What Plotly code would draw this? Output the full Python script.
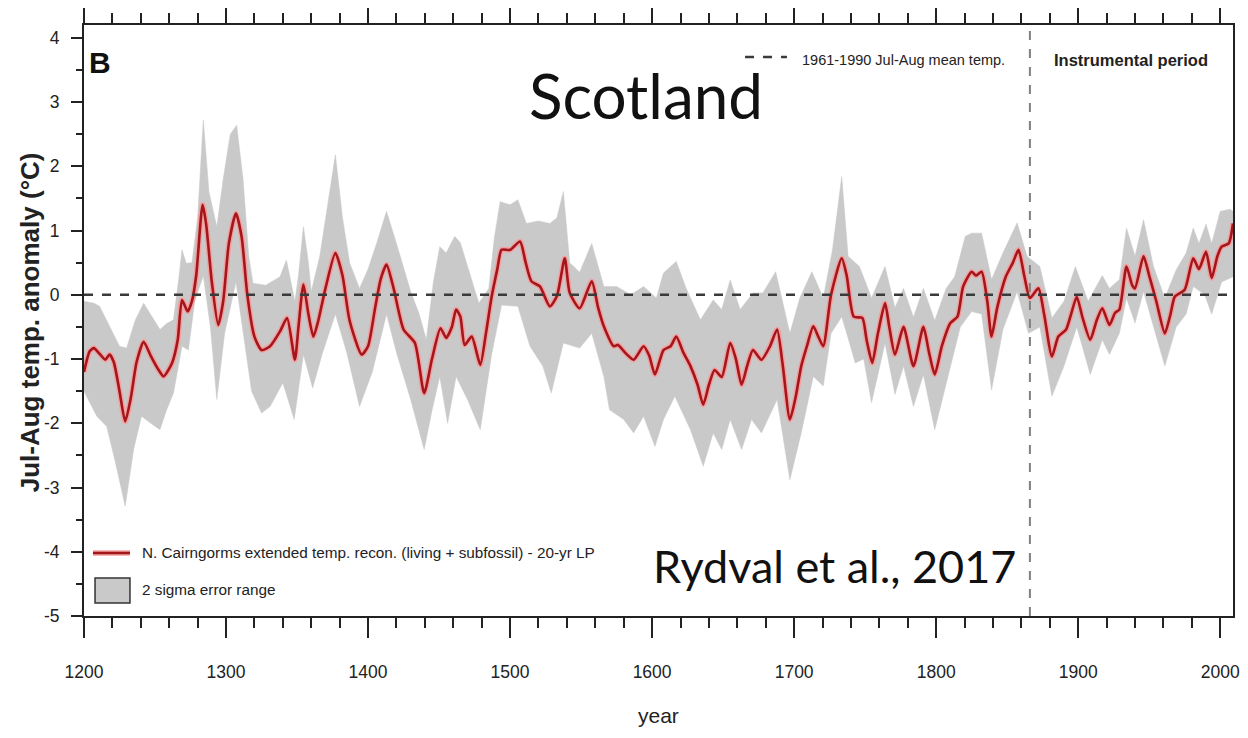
import plotly.graph_objects as go

# ---------------- data ----------------
recon_years = [1200, 1204, 1207, 1211, 1215, 1218, 1221, 1225, 1229, 1233, 1237, 1242, 1247, 1252,
               1256, 1262, 1266, 1269, 1273, 1276, 1279, 1283.5, 1286, 1290, 1294.5, 1298, 1302, 1307,
               1311, 1315, 1320, 1325, 1331, 1338, 1343, 1348.5, 1351, 1354.5, 1358, 1361.5, 1365, 1370,
               1377, 1382, 1387, 1395.5, 1400, 1405, 1409, 1413, 1418, 1425, 1433, 1439.5, 1445, 1451,
               1455, 1459, 1462, 1465, 1468, 1473, 1479, 1483, 1487, 1491, 1494, 1500, 1507, 1511, 1515,
               1521, 1528, 1533, 1538.5, 1542, 1549, 1557.5, 1562, 1566, 1573, 1576, 1581, 1587, 1594,
               1598, 1602, 1608, 1613, 1617, 1622, 1627, 1632, 1636, 1640, 1644, 1649, 1655, 1659, 1663,
               1667, 1671, 1677, 1683, 1688, 1692, 1697, 1701, 1705, 1709, 1713.5, 1717, 1720.5, 1726,
               1733.5, 1737, 1742, 1748, 1751, 1755, 1759, 1764, 1767, 1771, 1777, 1784, 1791, 1795, 1799,
               1804, 1810, 1815, 1819, 1825, 1828, 1832, 1836, 1839, 1843, 1849, 1854, 1858, 1862, 1866,
               1872, 1876, 1881.5, 1886, 1891.5, 1895, 1899, 1903, 1908.5, 1913, 1917, 1922, 1926, 1929,
               1934, 1938, 1940, 1946, 1950, 1955, 1961, 1965, 1968, 1975, 1981, 1985, 1990, 1994, 1998,
               2001, 2006, 2009]
recon_values = [-1.2, -0.88, -0.83, -0.92, -1.01, -0.93, -1.05, -1.5, -1.97, -1.6, -1.05, -0.73, -0.95, -1.15,
                -1.27, -1.06, -0.7, -0.08, -0.26, -0.1, 0.3, 1.4, 1.1, 0.2, -0.47, -0.1, 0.8, 1.27,
                0.9, 0.0, -0.65, -0.86, -0.8, -0.57, -0.36, -1.01, -0.5, 0.16, -0.3, -0.65, -0.4, 0.1,
                0.65, 0.3, -0.4, -0.93, -0.8, -0.2, 0.25, 0.47, 0.1, -0.54, -0.75, -1.53, -1.0, -0.52,
                -0.67, -0.5, -0.23, -0.34, -0.78, -0.65, -1.09, -0.6, -0.03, 0.4, 0.7, 0.7, 0.83, 0.5, 0.21,
                0.13, -0.18, -0.02, 0.57, 0.03, -0.21, 0.21, -0.2, -0.49, -0.8, -0.78, -0.9, -1.01, -0.8,
                -0.95, -1.24, -0.86, -0.8, -0.65, -0.9, -1.11, -1.4, -1.71, -1.4, -1.17, -1.28, -0.75, -1.0, -1.4,
                -1.1, -0.86, -1.01, -0.8, -0.54, -1.1, -1.94, -1.6, -1.11, -0.8, -0.49, -0.65, -0.8, 0.0,
                0.57, 0.3, -0.34, -0.36, -0.7, -1.06, -0.6, -0.13, -0.5, -0.93, -0.5, -1.11, -0.5, -0.9, -1.24,
                -0.8, -0.44, -0.34, 0.13, 0.36, 0.3, 0.36, -0.1, -0.65, -0.2, 0.28, 0.5, 0.7, 0.3, -0.05,
                0.1, -0.3, -0.96, -0.65, -0.54, -0.3, -0.03, -0.35, -0.7, -0.4, -0.21, -0.47, -0.28, -0.23,
                0.44, 0.15, 0.1, 0.6, 0.3, -0.1, -0.6, -0.3, -0.03, 0.08, 0.57, 0.4, 0.67, 0.26, 0.6,
                0.75, 0.8, 1.11]

upper_years = [1200, 1207, 1211, 1216, 1220, 1225, 1230, 1236, 1242, 1248, 1253.5, 1258, 1263, 1267, 1269,
               1272, 1276, 1280, 1284, 1288, 1293.5, 1298, 1303, 1307.5, 1312, 1316, 1319, 1328, 1338,
               1342.5, 1348.5, 1351, 1354.5, 1358, 1360, 1366, 1372, 1377, 1382, 1387, 1394, 1400, 1406,
               1413, 1420, 1430, 1436, 1441, 1446, 1450.5, 1455, 1461, 1465, 1472, 1478, 1485, 1489, 1493,
               1500, 1505.5, 1511.5, 1520, 1528, 1533, 1537.5, 1542, 1549, 1557.5, 1566, 1575, 1585, 1594,
               1603, 1608, 1617, 1624, 1634, 1643, 1649, 1655, 1662, 1671, 1678, 1687, 1697, 1704, 1712.5,
               1720.5, 1727, 1733.5, 1738, 1746, 1754.5, 1764, 1771, 1777, 1784, 1791, 1799, 1807, 1813,
               1820.5, 1825, 1832, 1839, 1847, 1857, 1864, 1873, 1881.5, 1890, 1898, 1907, 1917, 1922,
               1929, 1934, 1940, 1946, 1953, 1961, 1969, 1976, 1981, 1985, 1990, 1994, 2000, 2007, 2009]
upper_values = [-0.1, -0.13, -0.18, -0.4, -0.59, -0.8, -0.83, -0.4, -0.13, -0.35, -0.54, -0.45, -0.39, 0.3, 0.7,
                0.49, 0.5, 1.2, 2.72, 1.6, 1.06, 1.8, 2.5, 2.64, 1.8, 0.6, 0.18, 0.15, 0.28,
                0.54, -0.1, 0.3, 1.06, 0.5, 0.05, 0.6, 1.5, 2.18, 1.2, 0.5, 0.1, 0.4, 0.8,
                1.3, 0.8, 0.05, -0.3, -0.7, 0.2, 0.75, 0.65, 0.91, 0.81, 0.3, -0.13, 0.1, 0.9, 1.45,
                1.4, 1.48, 1.11, 1.15, 1.11, 1.2, 1.61, 0.5, 0.35, 0.8, 0.13, 0.13, 0.0, 0.13,
                -0.05, 0.34, 0.52, 0.1, -0.39, -0.08, -0.23, 0.23, -0.23, 0.03, 0.03, 0.36, -0.6, -0.05, 0.36,
                -0.05, 0.7, 1.84, 0.6, 0.44, -0.05, 0.44, -0.2, 0.1, -0.35, 0.1, -0.4, 0.1, 0.28,
                0.91, 0.96, 0.96, 0.24, 0.65, 1.12, 0.6, 0.44, -0.36, -0.1, 0.44, -0.1, 0.3, 0.1,
                0.24, 1.04, 0.6, 1.17, 0.44, -0.05, 0.39, 0.65, 1.04, 0.8, 1.1, 0.8, 1.3, 1.33, 1.3]

lower_years = [1200, 1209, 1216, 1222, 1229, 1235, 1240.5, 1247, 1253.5, 1258, 1263, 1269, 1273.5, 1278,
               1284, 1289, 1293.5, 1299, 1307, 1312, 1318, 1325, 1331, 1340, 1348, 1354.5, 1361, 1368,
               1377, 1385, 1394, 1403, 1413, 1420, 1430, 1439.5, 1445, 1450.5, 1456, 1462, 1470, 1479,
               1487, 1494, 1505.5, 1514, 1523, 1529, 1537.5, 1549, 1557.5, 1566, 1570, 1580, 1587, 1594,
               1602, 1608, 1616, 1627, 1636, 1643, 1649, 1655, 1663, 1670, 1677, 1688, 1697, 1705, 1713.5,
               1720.5, 1726, 1733.5, 1739, 1743, 1749, 1754.5, 1764, 1771, 1777, 1784, 1791, 1799, 1810,
               1817, 1825, 1832, 1839, 1847, 1857, 1865, 1873, 1881.5, 1890, 1899, 1908.5, 1917, 1922,
               1929, 1934, 1940, 1946, 1961, 1969, 1976, 1981, 1989, 1994, 2001, 2009]
lower_values = [-1.5, -1.89, -2.05, -2.6, -3.29, -2.4, -1.89, -2.0, -2.1, -1.8, -1.53, -0.8, -0.86, -0.1,
                0.3, -0.5, -1.63, -0.6, 0.2, -0.6, -1.5, -1.84, -1.74, -1.37, -1.94, -0.93, -1.45, -0.9,
                -0.3, -0.9, -1.74, -1.2, -0.3, -0.9, -1.63, -2.41, -1.8, -1.27, -2.0, -1.27, -1.63, -2.1,
                -0.93, -0.16, -0.18, -0.8, -1.11, -1.53, -0.75, -0.83, -0.6, -1.27, -1.79, -1.94, -2.15, -1.89,
                -2.36, -1.94, -1.58, -2.1, -2.67, -2.15, -2.41, -1.94, -2.41, -1.94, -2.15, -1.63, -2.88, -2.15, -1.27,
                -1.42, -0.6, -0.34, -0.75, -1.06, -1.0, -1.68, -0.75, -1.55, -1.11, -1.74, -1.24, -2.1, -1.11,
                -0.5, -0.26, -0.3, -1.48, -0.54, 0.05, -0.6, -0.5, -1.58, -1.11, -0.5, -1.24, -0.7, -0.93,
                -0.6, -0.05, -0.44, 0.05, -1.11, -0.5, -0.3, 0.13, 0.0, -0.3, 0.2, 0.28]

x_ticks = [1200, 1300, 1400, 1500, 1600, 1700, 1800, 1900, 2000]
x_tick_labels = ["1200", "1300", "1400", "1500", "1600", "1700", "1800", "1900", "2000"]
y_ticks = [4, 3, 2, 1, 0, -1, -2, -3, -4, -5]
y_tick_labels = ["4", "3", "2", "1", "0", "-1", "-2", "-3", "-4", "-5"]
baseline_value = 0          # 1961-1990 Jul-Aug mean
instrumental_start = 1866   # start of instrumental period

# ---------------- figure ----------------
fig = go.Figure()

band_x = upper_years + lower_years[::-1]
band_y = upper_values + lower_values[::-1]
fig.add_trace(go.Scatter(x=band_x, y=band_y, fill="toself", fillcolor="#c9c9c9",
                         line=dict(color="#c9c9c9", width=0.5), mode="lines",
                         hoverinfo="skip", showlegend=False))

fig.add_trace(go.Scatter(x=recon_years, y=recon_values, mode="lines",
                         line=dict(color="#f2a0a0", width=5.5, shape="spline", smoothing=0.6),
                         hoverinfo="skip", showlegend=False))
fig.add_trace(go.Scatter(x=recon_years, y=recon_values, mode="lines",
                         line=dict(color="#a3161b", width=2.6, shape="spline", smoothing=0.6),
                         showlegend=False))

# reference lines
fig.add_shape(type="line", xref="paper", x0=0, x1=1, yref="y", y0=baseline_value, y1=baseline_value,
              line=dict(color="#3a3a3a", width=2.5, dash="dash"))
fig.add_shape(type="line", xref="x", x0=instrumental_start, x1=instrumental_start, yref="paper", y0=0, y1=1,
              line=dict(color="#808080", width=2, dash="dash"))

tick_font = dict(family="Liberation Sans, Arial", size=17.5, color="#222222")

fig.update_xaxes(range=[1200, 2009], tickvals=x_ticks, ticktext=x_tick_labels, ticks="outside",
                 ticklen=20, tickwidth=2, automargin=False, ticklabeloverflow="allow",
                 tickcolor="#222", showline=True, linecolor="#222", linewidth=2, mirror="allticks",
                 showgrid=False, zeroline=False, tickfont=tick_font, ticklabelstandoff=19,
                 minor=dict(dtick=20, ticks="outside", ticklen=10, tickwidth=2, tickcolor="#222", showgrid=False))
fig.update_yaxes(range=[-5, 4.2], tickvals=y_ticks, ticktext=y_tick_labels, ticks="outside",
                 ticklen=11, tickwidth=2, automargin=False,
                 tickcolor="#222", showline=True, linecolor="#222", linewidth=2, mirror=True,
                 showgrid=False, zeroline=False, tickfont=tick_font, ticklabelstandoff=8,
                 minor=dict(dtick=0.5, ticks="outside", ticklen=6, tickwidth=2, tickcolor="#222", showgrid=False))

small = "Liberation Sans, Arial"
ann = []
def add_text(text, x, y, size, family=small, xanchor="center", yanchor="middle", angle=0, color="#222"):
    ann.append(dict(text=text, x=x, y=y, xref="paper", yref="paper", xanchor=xanchor, yanchor=yanchor,
                    textangle=angle, showarrow=False, font=dict(family=family, size=size, color=color)))

add_text("<b>B</b>", 0.014, 0.937, 30, color="#111")
add_text("Scotland", 0.489, 0.8816, 62, family="Lato, Open Sans", color="#111")
add_text("Rydval et al., 2017", 0.6536, 0.0846, 45, family="Lato, Open Sans", color="#111")
add_text("1961-1990 Jul-Aug mean temp.", 0.6231, 0.9408, 14.5, xanchor="left")
add_text("<b>Instrumental period</b>", 0.911, 0.9408, 16.5)
add_text("N. Cairngorms extended temp. recon. (living + subfossil) - 20-yr LP", 0.0487, 0.1066, 15.3,
         xanchor="left")
add_text("2 sigma error range", 0.0487, 0.044, 15.3, xanchor="left")
add_text("year", 0.5, -0.169, 21)
add_text("<b>Jul-Aug temp. anomaly (°C)</b>", -0.047, 0.497, 26, angle=-90)

# legend samples (decoration)
fig.add_shape(type="line", xref="paper", yref="paper", x0=0.0078, x1=0.0400, y0=0.1066, y1=0.1066,
              line=dict(color="#f2a0a0", width=5.5))
fig.add_shape(type="line", xref="paper", yref="paper", x0=0.0078, x1=0.0400, y0=0.1066, y1=0.1066,
              line=dict(color="#a3161b", width=2.6))
fig.add_shape(type="rect", xref="paper", yref="paper", x0=0.0096, x1=0.0400, y0=0.022, y1=0.0643,
              fillcolor="#c9c9c9", line=dict(color="#333", width=1.5))
fig.add_shape(type="line", xref="paper", yref="paper", x0=0.5753, x1=0.6118, y0=0.9459, y1=0.9459,
              line=dict(color="#3a3a3a", width=2.5, dash="dash"))

# page body has an 8px margin, so the figure is sized/offset to land the plot area where the reference has it
fig.update_layout(width=1232, height=722, margin=dict(l=76, r=7, t=17, b=114),
                  plot_bgcolor="white", paper_bgcolor="white", annotations=ann, showlegend=False)

fig.write_html("out.html")
